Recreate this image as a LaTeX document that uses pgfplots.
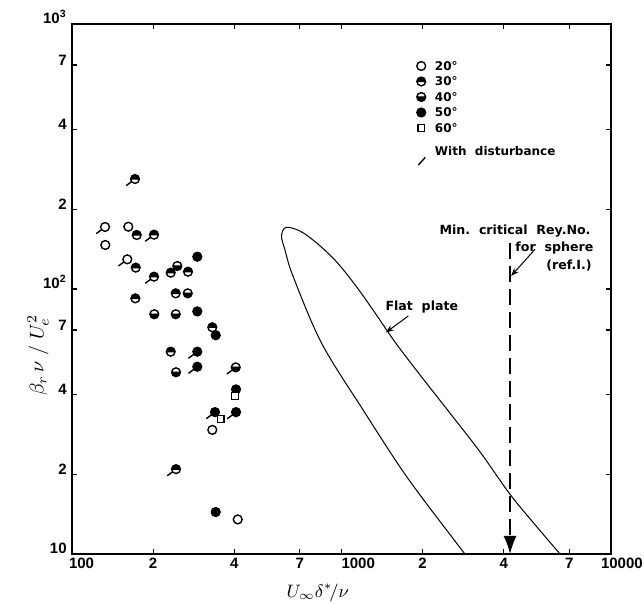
\documentclass[border=0pt]{standalone}
\usepackage{fontspec}
\setmainfont{Liberation Sans}
\newfontfamily\annfont{DejaVu Sans}
\usepackage{pgfplots}
\pgfplotsset{compat=1.18}
\usetikzlibrary{arrows.meta}

\pgfdeclareplotmark{tophalf}{%
  \pgfpathmoveto{\pgfqpoint{\pgfplotmarksize}{0pt}}%
  \pgfpatharc{0}{180}{\pgfplotmarksize}%
  \pgfpathclose
  \pgfusepathqfill
  \pgfpathcircle{\pgfpointorigin}{\pgfplotmarksize}%
  \pgfpathmoveto{\pgfqpoint{-\pgfplotmarksize}{0pt}}%
  \pgfpathlineto{\pgfqpoint{\pgfplotmarksize}{0pt}}%
  \pgfusepathqstroke
}
\pgfdeclareplotmark{bothalf}{%
  \pgfpathmoveto{\pgfqpoint{-\pgfplotmarksize}{0pt}}%
  \pgfpatharc{180}{360}{\pgfplotmarksize}%
  \pgfpathclose
  \pgfusepathqfill
  \pgfpathcircle{\pgfpointorigin}{\pgfplotmarksize}%
  \pgfpathmoveto{\pgfqpoint{-\pgfplotmarksize}{0pt}}%
  \pgfpathlineto{\pgfqpoint{\pgfplotmarksize}{0pt}}%
  \pgfusepathqstroke
}
\pgfdeclareplotmark{dist}{%
  \pgfpathmoveto{\pgfqpoint{-4.4pt}{-3.3pt}}%
  \pgfpathlineto{\pgfqpoint{-1.7pt}{-1.3pt}}%
  \pgfusepathqstroke
}
\pgfplotsset{
  legimg/.style={legend image code/.code={\draw[##1] plot coordinates {(0pt,0pt)};}},
  mk/.style={only marks, mark size=2.2pt, mark options={draw=black, line width=0.7pt, fill=#1}, legimg},
}

\begin{document}
\begin{tikzpicture}
\begin{axis}[
  xmode=log, ymode=log,
  xmin=100, xmax=10000, ymin=10, ymax=1000,
  scale only axis, width=269.5pt, height=265pt,
  clip mode=individual,
  axis line style={line width=0.8pt},
  tick style={line width=0.6pt, black},
  major tick length=2.5pt,
  tick align=inside,
  xminorticks=false, yminorticks=false,
  xtick={100,200,400,700,1000,2000,4000,7000,10000},
  xticklabels={{\makebox[0pt][l]{\hspace{-1.5pt}100}},2,4,7,{\makebox[0pt][l]{1000}},2,4,7,{\makebox[0pt][l]{\hspace{-5pt}10000}}},
  ytick={10,20,40,70,100,200,400,700,1000},
  yticklabels={10,2,4,7,10\textsuperscript{2},2,4,7,10\textsuperscript{3}},
  tick label style={font=\fontsize{7.5}{8}\selectfont\bfseries},
  xticklabel style={inner sep=0pt, anchor=north, yshift=-2pt},
  yticklabel style={inner sep=0pt, anchor=base east, xshift=-2.5pt},
  legend style={draw=none, fill=none, inner sep=0pt, row sep=3.25pt, column sep=4.5pt,
    at={(axis description cs:0.639,0.93)}, anchor=north west,
    font=\annfont\fontsize{6}{7}\selectfont\bfseries,
    nodes={inner sep=0pt, text height=4.5pt, text depth=0pt}},
  legend cell align=left,
]
% Flat plate curve
\addplot[line width=0.5pt, smooth, tension=0.55, forget plot] coordinates {
 (2873,10) (2676,10.97) (1746,19.57) (1204,34.9) (844,62.4) (662,111.3) (617,140.4) (599,158.5)
 (622,170.7) (701,165.5) (809,149.1) (960,126.4) (1139,101.7) (1332,81.2) (1579,63.1) (1956,47.4)
 (2527,34.0) (3265,24.3) (4220,16.8) (5224,12.9) (6470,10)};
% critical Reynolds number line
\addplot[line width=0.8pt, dash pattern=on 8pt off 3.5pt, -{Latex[length=9pt,width=6.5pt]}, forget plot] coordinates {(4220,149) (4220,10)};

\addplot[mk=white, mark=*] coordinates {
 (132.6,171.4) (161.8,171.8) (132.9,146.6) (160.4,129.4) (331.6,29.4) (412.1,13.5)};
\addlegendentry{20°}
\addplot[mk=black, mark=tophalf] coordinates {
 (171.3,260) (173.9,159.9) (201.5,160.3) (172.4,120.4) (201.5,111.3) (232.4,115.2) (269.4,116.2)
 (171.8,92.2) (242.6,96.3) (331.6,71.7) (232.4,58.0) (243.2,20.9)};
\addlegendentry{30°}
\addplot[mk=black, mark=bothalf] coordinates {
 (245.9,122.1) (268.8,96.3) (202.0,80.3) (242.6,80.3) (243.2,48.5) (405.0,50.6)};
\addlegendentry{40°}
\addplot[mk=black, mark=*] coordinates {
 (291.7,132.4) (291.7,82.3) (341.4,66.9) (291.7,58.0) (291.7,50.9) (406.1,41.8) (339.3,34.3) (406.1,34.3) (341.4,14.4)};
\addlegendentry{50°}
\addplot[only marks, mark=square*, mark size=1.6pt, mark options={draw=black, fill=white, line width=0.6pt}, legimg] coordinates {
 (402.5,39.5) (356.3,32.3)};
\addlegendentry{60°}
\addplot[only marks, mark=dist, mark options={line width=0.7pt, draw=black},
  legend image code/.code={\path (0pt,6pt); \draw[line width=0.7pt] (-1.4pt,-6.8pt) -- (2pt,-3pt);}] coordinates {
 (132.6,171.4) (160.4,129.4) (171.3,260) (201.5,160.3) (201.5,111.3) (243.2,20.9) (245.9,122.1)
 (405.0,50.6) (291.7,58.0) (291.7,50.9) (339.3,34.3) (406.1,34.3)};
\addlegendentry{With\ \ disturbance}

% annotations
\node[font=\annfont\fontsize{6.3}{7}\selectfont\bfseries] at (axis description cs:0.649,0.4666) {Flat\ \ plate};
\draw[line width=0.5pt, -{Stealth[length=4pt,width=3pt]}] (axis cs:1770,79.1) -- (axis cs:1460,68.5);
\node[font=\annfont\fontsize{6.3}{7}\selectfont\bfseries] at (axis description cs:0.822,0.6094) {Min.\ \ critical\ \ Rey.No.};
\node[font=\annfont\fontsize{6.3}{7}\selectfont\bfseries] at (axis description cs:0.895,0.5772) {for\ \ sphere};
\node[font=\annfont\fontsize{6.3}{7}\selectfont\bfseries] at (axis description cs:0.922,0.5433) {(ref.I.)};
\draw[line width=0.5pt, -{Stealth[length=4pt,width=3pt]}] (axis cs:5224,141.2) -- (axis cs:4260,112);
% axis titles
\node[rotate=90, font=\fontsize{10}{12}\selectfont] at (axis description cs:-0.063,0.375) {$\beta_r\,\nu\;/\;U_e^2$};
\node[font=\fontsize{9}{11}\selectfont] at (axis description cs:0.456,-0.0736) {$U_{\infty}\delta^{*}\!/\nu$};

\coordinate (ll) at (rel axis cs:0,0);
\coordinate (ur) at (rel axis cs:1,1);
\end{axis}
\pgfresetboundingbox
\path[use as bounding box] ([shift={(-36pt,-25pt)}]ll) rectangle ([shift={(16.5pt,12pt)}]ur);
\end{tikzpicture}
\end{document}
